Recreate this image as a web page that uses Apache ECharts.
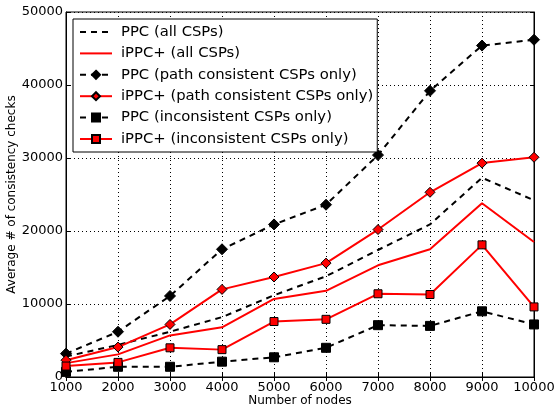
<!DOCTYPE html>
<html>
<head>
    <meta charset="utf-8" />
    <title>consistency checks</title>
    <script src="https://cdn.jsdelivr.net/npm/echarts@6/dist/echarts.min.js"></script>
    <style>
        body { margin: 0; background: #fff; }
    </style>
</head>
<body>
<div id="main" style="width: 557px;height:405px;"></div>
<script type="text/javascript">
    // number of nodes
    var nodes = [1000, 2000, 3000, 4000, 5000, 6000, 7000, 8000, 9000, 10000];
    var yTicks = [0, 10000, 20000, 30000, 40000, 50000];
    // series names
    var names = [
        'PPC (all CSPs)',
        'iPPC+ (all CSPs)',
        'PPC (path consistent CSPs only)',
        'iPPC+ (path consistent CSPs only)',
        'PPC (inconsistent CSPs only)',
        'iPPC+ (inconsistent CSPs only)'
    ];
    // values
    var ppcAll = [2800, 4400, 6200, 8200, 11200, 13800, 17400, 20900, 27300, 24200];
    var ippcAll = [1900, 3100, 5700, 6800, 10700, 11800, 15300, 17500, 23800, 18500];
    var ppcPath = [3200, 6200, 11100, 17500, 20900, 23600, 30400, 39200, 45400, 46200];
    var ippcPath = [2300, 4100, 7200, 12000, 13700, 15600, 20200, 25300, 29300, 30100];
    var ppcIncons = [700, 1400, 1400, 2100, 2700, 4000, 7100, 7000, 9000, 7200];
    var ippcIncons = [1500, 2000, 4000, 3750, 7600, 7900, 11400, 11300, 18100, 9600];

    function pairs(vals) {
        var out = [];
        for (var i = 0; i < nodes.length; i++) {
            out.push([nodes[i], vals[i]]);
        }
        return out;
    }

    function makeSeries(name, vals, color, dashed, symbol, size) {
        return {
            name: name,
            type: 'line',
            data: pairs(vals),
            symbol: symbol || 'none',
            symbolSize: size || 0,
            showSymbol: !!symbol,
            clip: false,
            lineStyle: { color: color, width: 2, type: dashed ? [6, 5] : 'solid' },
            itemStyle: { color: color, borderColor: '#000', borderWidth: 1 },
            z: 3
        };
    }

    // legend entries, plain lines get an invisible marker
    var hidden = { color: 'rgba(0,0,0,0)', borderColor: 'rgba(0,0,0,0)', borderWidth: 0, opacity: 0 };
    var legendData = [];
    for (var k = 0; k < names.length; k++) {
        if (k < 2) {
            legendData.push({ name: names[k], itemStyle: hidden });
        } else {
            legendData.push(names[k]);
        }
    }

    var fontFam = 'DejaVu Sans';
    var plain = function (v) { return String(v); };
    var myChart = echarts.init(document.getElementById('main'));
    var option = {
        animation: false,
        backgroundColor: '#fff',
        textStyle: { fontFamily: fontFam },
        grid: {
            left: 66, right: 23, top: 12, bottom: 28,
            outerBoundsMode: 'none',
            show: true, borderColor: '#000', borderWidth: 1
        },
        legend: {
            orient: 'vertical',
            left: 73,
            top: 19,
            data: legendData,
            itemWidth: 32,
            itemHeight: 10,
            itemGap: 6.4,
            padding: [5.5, 4, 5.5, 6],
            backgroundColor: '#fff',
            borderColor: '#000',
            borderWidth: 1,
            borderRadius: 0,
            textStyle: { fontFamily: fontFam, fontSize: 14.8, lineHeight: 15, color: '#000', padding: [0, 0, 0, 4] }
        },
        xAxis: [{
            type: 'value',
            min: 1000,
            max: 10000,
            interval: 1000,
            name: 'Number of nodes',
            nameLocation: 'middle',
            nameMoveOverlap: false,
            nameGap: 18,
            nameTextStyle: { fontFamily: fontFam, fontSize: 12, color: '#000' },
            axisLine: { lineStyle: { color: '#000' } },
            axisTick: { inside: true, length: 4, lineStyle: { color: '#000' } },
            axisLabel: { fontFamily: fontFam, fontSize: 13, color: '#000', margin: 4, formatter: plain },
            splitLine: { show: true, lineStyle: { color: '#000', type: [1, 3], width: 1 } }
        }, {
            type: 'value',
            position: 'top',
            min: 1000,
            max: 10000,
            interval: 1000,
            axisLine: { lineStyle: { color: '#000' } },
            axisTick: { inside: true, length: 4, lineStyle: { color: '#000' } },
            axisLabel: { show: false },
            splitLine: { show: false }
        }],
        yAxis: [{
            type: 'value',
            min: yTicks[0],
            max: yTicks[yTicks.length - 1],
            interval: 10000,
            name: 'Average # of consistency checks',
            nameLocation: 'middle',
            nameMoveOverlap: false,
            nameGap: 48,
            nameTextStyle: { fontFamily: fontFam, fontSize: 12, color: '#000' },
            axisLine: { lineStyle: { color: '#000' } },
            axisTick: { inside: true, length: 4, lineStyle: { color: '#000' } },
            axisLabel: { fontFamily: fontFam, fontSize: 13, color: '#000', margin: 3, formatter: plain },
            splitLine: { show: true, lineStyle: { color: '#000', type: [1, 3], width: 1 } }
        }, {
            type: 'value',
            position: 'right',
            min: 0,
            max: 50000,
            interval: 10000,
            axisLine: { show: true, lineStyle: { color: '#000' } },
            axisTick: { show: true, inside: true, length: 4, lineStyle: { color: '#000' } },
            axisLabel: { show: false },
            splitLine: { show: false }
        }],
        series: [
            makeSeries(names[0], ppcAll, '#000', true),
            makeSeries(names[1], ippcAll, '#ff0000', false),
            makeSeries(names[2], ppcPath, '#000', true, 'diamond', 11),
            makeSeries(names[3], ippcPath, '#ff0000', false, 'diamond', 10),
            makeSeries(names[4], ppcIncons, '#000', true, 'rect', 9),
            makeSeries(names[5], ippcIncons, '#ff0000', false, 'rect', 8)
        ]
    };
    myChart.setOption(option);
</script>
</body>
</html>
